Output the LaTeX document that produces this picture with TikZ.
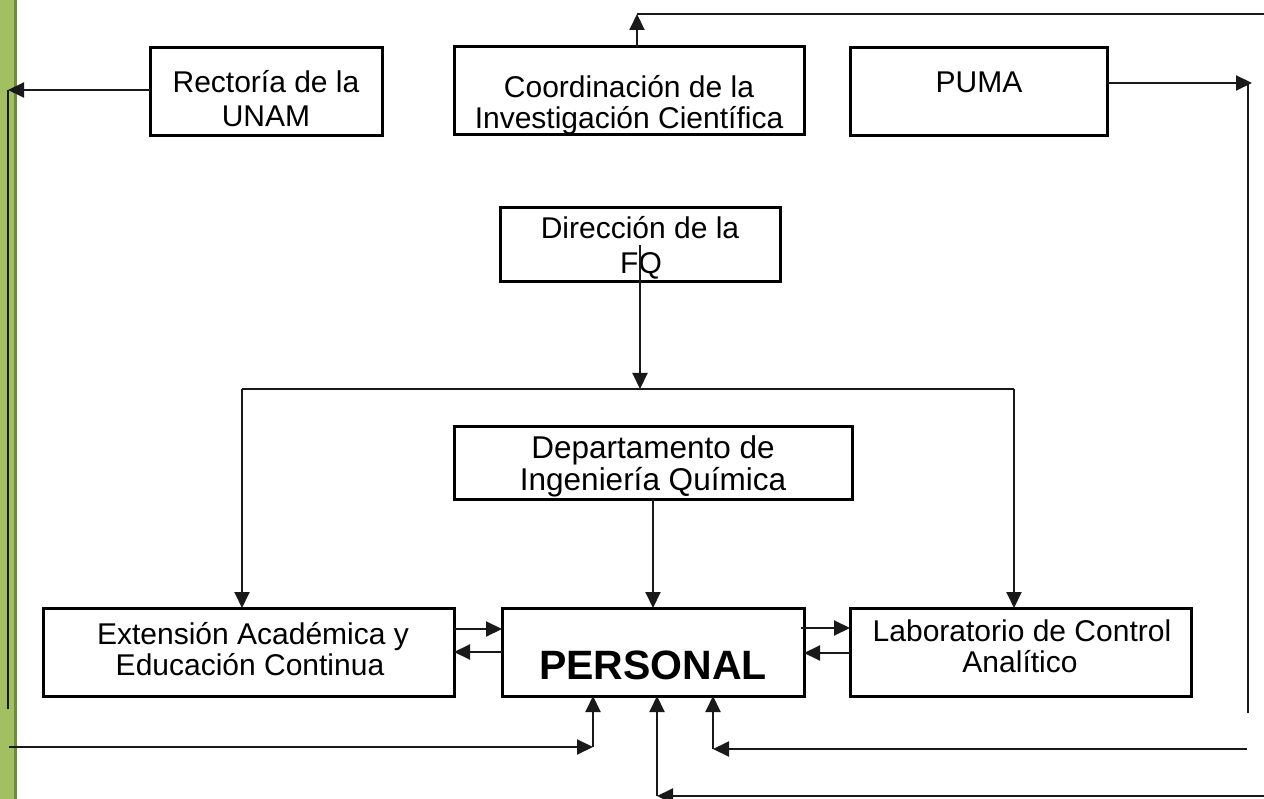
\documentclass[tikz,border=0pt]{standalone}
\usepackage{fontspec}
\setmainfont{Liberation Sans}
\usetikzlibrary{arrows.meta}
\definecolor{barlight}{HTML}{A2C062}
\definecolor{bardark}{HTML}{6F8C3C}
\tikzset{
  box/.style={draw=black, line width=3pt, rectangle, inner sep=0pt, outer sep=0pt},
  txt/.style={anchor=base, inner sep=0pt, font=\fontsize{30}{36}\selectfont},
  conn/.style={draw=black!90, line width=2pt},
  arr/.style={conn, -{Triangle[length=16pt,width=15pt]}},
}
\begin{document}
\begin{tikzpicture}[x=1pt,y=-1pt]
\useasboundingbox (0,0) rectangle (1264,799);
\fill[white] (0,0) rectangle (1264,799);
% green side bar
\fill[barlight] (0,0) rectangle (15,799);
\fill[bardark] (14,0) rectangle (17,799);

% boxes
\node[box, minimum width=232pt, minimum height=88pt] (rect) at (266,92) {};
\node[box, minimum width=350pt, minimum height=88pt] (coord) at (629,91) {};
\node[box, minimum width=257pt, minimum height=88pt] (puma) at (978.5,92) {};
\node[box, minimum width=280pt, minimum height=74pt] (dir) at (640,245) {};
\node[box, minimum width=398pt, minimum height=72pt] (dep) at (653,463) {};
\node[box, minimum width=411pt, minimum height=88pt] (ext) at (248.5,652) {};
\node[box, minimum width=302pt, minimum height=88pt] (pers) at (653,652) {};
\node[box, minimum width=341pt, minimum height=88pt] (lab) at (1020.5,652) {};

% texts
\node[txt] (t1) at (266,93) {Rectoría de la};
\node[txt] (t2) at (266,127) {UNAM};
\node[txt] (t3) at (629,98) {Coordinación de la};
\node[txt] (t4) at (629,129) {Investigación Científica};
\node[txt] (t5) at (979,93) {PUMA};
\node[txt] (t6) at (640,239) {Dirección de la};
\node[txt] (t7) at (641,274) {FQ};
\node[txt, font=\fontsize{31.5}{36}\selectfont] (t8) at (653,459) {Departamento de};
\node[txt, font=\fontsize{31.5}{36}\selectfont] (t9) at (653,490) {Ingeniería Química};
\node[txt] (t10) at (253,644) {Extensión Académica y};
\node[txt] (t11) at (250,675) {Educación Continua};
\node[txt] (t12) at (1022,641) {Laboratorio de Control};
\node[txt] (t13) at (1020,672) {Analítico};
\node[txt, font=\fontsize{41}{46}\selectfont\bfseries] (t14) at (653,679) {PERSONAL};

% helper coordinates
\coordinate (L) at (8,90);
\coordinate (Lb) at (8,709);
\coordinate (Top) at (1264,14);
\coordinate (R) at (1252,83);
\coordinate (Rv) at (1248,713);
\coordinate (Bus) at (640,389);
\coordinate (B1) at (9,747);
\coordinate (B2) at (1247,749);
\coordinate (B3) at (1264,796);

% Rectoria to left line
\draw[arr] (rect.west |- L) -- (L);
\draw[conn] (L) -- (Lb);
% bottom-left return to PERSONAL
\draw[arr] (B1) -- (B1 -| 593,0);
\draw[arr] (B1 -| 593,0) -- (593,0 |- pers.south);
% Coordinacion up
\draw[arr] (637,0 |- coord.north) -- (637,0 |- Top);
\draw[conn] (637,0 |- Top) -- (Top);
% PUMA right
\draw[arr] (puma.east |- R) -- (R);
\draw[conn] (1248,83) -- (Rv);
% right lower return
\draw[arr] (B2) -- (B2 -| 713,0);
\draw[arr] (B2 -| 713,0) -- (713,0 |- pers.south);
% bottom return
\draw[arr] (B3) -- (B3 -| 657,0);
\draw[arr] (B3 -| 657,0) -- (657,0 |- pers.south);
% Direccion down to bus
\draw[arr] (640,245) -- (Bus);
\draw[conn] (242,389) -- (1014,389);
\draw[arr] (242,389) -- (242,0 |- ext.north);
\draw[arr] (1014,389) -- (1014,0 |- lab.north);
% Departamento to PERSONAL
\draw[arr] (dep.south) -- (dep.south |- pers.north);
% Extension <-> PERSONAL
\draw[arr] (ext.east |- 0,629) -- (pers.west |- 0,629);
\draw[arr] (pers.west |- 0,652) -- (ext.east |- 0,652);
% PERSONAL <-> Laboratorio
\draw[arr] (801,628) -- (lab.west |- 0,628);
\draw[arr] (lab.west |- 0,653) -- (pers.east |- 0,653);
\end{tikzpicture}
\end{document}
